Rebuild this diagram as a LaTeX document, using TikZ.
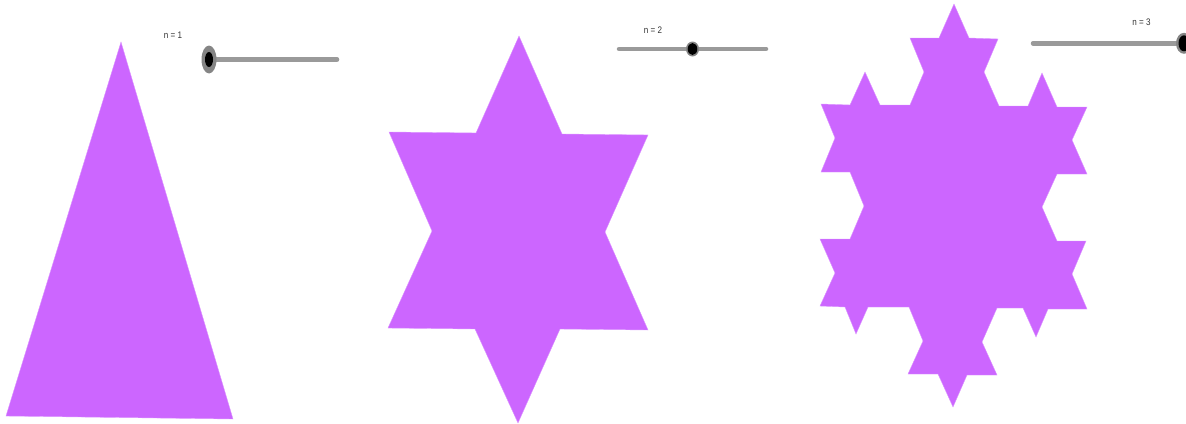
\documentclass[tikz,border=0pt]{standalone}
\usepackage{fontspec}
\setsansfont{Liberation Sans}
\usepackage{xcolor}
\usepackage{tikz}
\usetikzlibrary{positioning}

\definecolor{kochfill}{HTML}{CC66FF}
\definecolor{trackgray}{HTML}{9A9A9A}
\definecolor{ringgray}{HTML}{858585}

\begin{document}
\begin{tikzpicture}[
    x=1pt, y=-1pt,
    fractal/.style={fill=kochfill, draw=kochfill!70!white, line width=0.4pt, line join=miter},
    track/.style={draw=trackgray, line width=4.5pt, line cap=round},
    lbl/.style={font=\sffamily\fontsize{9.5}{11}\selectfont, text=black!80, inner sep=0pt, xscale=0.85}
]
\useasboundingbox (0,0) rectangle (1186,423);

% Shape for n = 1
\draw[fractal] (121,42) -- (233,419) -- (6,416) -- cycle;

% Shape for n = 2
\draw[fractal] (519,36) -- (562,134) -- (648,135) -- (605,232) -- (648,330)
    -- (560,329) -- (518,423) -- (475,329) -- (388,328) -- (432,231)
    -- (389,132) -- (476,133) -- cycle;

% Shape for n = 3
\draw[fractal] (954,4) -- (969,38) -- (998,39) -- (984,72) -- (999,106)
    -- (1028,106) -- (1042,73) -- (1057,107) -- (1087,107) -- (1072,140)
    -- (1087,174) -- (1057,174) -- (1042,207) -- (1057,241) -- (1086,241)
    -- (1072,274) -- (1087,309) -- (1048,309) -- (1036,337) -- (1023,308)
    -- (997,308) -- (982,342) -- (997,375) -- (967,375) -- (953,407)
    -- (938,374) -- (908,374) -- (923,341) -- (909,307) -- (868,307)
    -- (856,334) -- (845,307) -- (820,306) -- (835,273) -- (820,239)
    -- (850,239) -- (864,206) -- (850,172) -- (821,172) -- (835,138)
    -- (821,104) -- (850,105) -- (865,72) -- (880,105) -- (910,105)
    -- (924,72) -- (910,38) -- (939,38) -- cycle;

% Sliders
\coordinate (knobA) at (209,59.5);
\coordinate (endA) at (337,59.5);
\node[lbl, transform shape] (labA) at (173,35) {n = 1};
\draw[track] (knobA) -- (endA);
\fill[ringgray] (knobA) ellipse [x radius=7.5, y radius=14];
\fill[black] (knobA) ellipse [x radius=4, y radius=7.5];

\coordinate (startB) at (619,49);
\coordinate (endB) at (766,49);
\coordinate (knobB) at (692.5,49);
\node[lbl, transform shape] (labB) at (653,30) {n = 2};
\draw[track] (startB) -- (endB);
\fill[ringgray] (knobB) ellipse [x radius=6.5, y radius=7.5];
\fill[black] (knobB) ellipse [x radius=4.8, y radius=6];

\coordinate (startC) at (1033,43.3);
\coordinate (knobC) at (1184,43.3);
\node[lbl, transform shape] (labC) at (1141.5,22.5) {n = 3};
\draw[track] (startC) -- (knobC);
\fill[ringgray] (knobC) ellipse [x radius=8, y radius=10.5];
\fill[black] (knobC) ellipse [x radius=5.5, y radius=8];

\end{tikzpicture}
\end{document}
